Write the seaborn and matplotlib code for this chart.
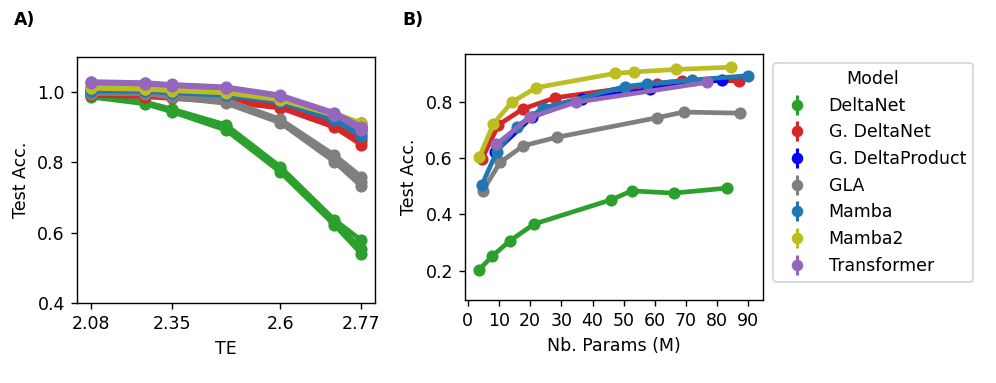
import matplotlib
matplotlib.use("Agg")
import matplotlib.pyplot as plt
from matplotlib.lines import Line2D
import seaborn as sns
import pandas as pd

models = ["DeltaNet", "G. DeltaNet", "G. DeltaProduct", "GLA", "Mamba", "Mamba2", "Transformer"]
colors = ["#2ca02c", "#d62728", "#0000ff", "#7f7f7f", "#1f77b4", "#bcbd22", "#9467bd"]

# ---- Panel A: test accuracy vs TE (three seeds per model) ----
mix = [0.0, 0.2, 0.3, 0.5, 0.7, 0.9, 1.0]
te_tick_pos = [0.0, 0.3, 0.7, 1.0]
te_tick_labels = ["2.08", "2.35", "2.6", "2.77"]

a_deltanet = [[0.990, 0.972, 0.952, 0.907, 0.788, 0.637, 0.578],
              [0.988, 0.970, 0.948, 0.900, 0.780, 0.630, 0.555],
              [0.986, 0.967, 0.944, 0.892, 0.773, 0.622, 0.540]]
a_gdeltanet = [[0.998, 0.993, 0.990, 0.980, 0.965, 0.915, 0.870],
               [0.995, 0.990, 0.986, 0.976, 0.960, 0.907, 0.860],
               [0.992, 0.987, 0.982, 0.972, 0.955, 0.900, 0.850]]
a_gdeltaproduct = [[1.012, 1.008, 1.004, 0.998, 0.980, 0.935, 0.912],
                   [1.010, 1.006, 1.002, 0.996, 0.977, 0.930, 0.905],
                   [1.008, 1.004, 1.000, 0.994, 0.974, 0.926, 0.898]]
a_gla = [[1.000, 1.000, 0.995, 0.978, 0.923, 0.821, 0.759],
         [0.998, 0.998, 0.990, 0.973, 0.918, 0.810, 0.745],
         [0.996, 0.995, 0.985, 0.968, 0.913, 0.802, 0.732]]
a_mamba = [[1.008, 1.006, 1.002, 0.995, 0.978, 0.928, 0.890],
           [1.006, 1.004, 1.000, 0.993, 0.975, 0.924, 0.882],
           [1.004, 1.002, 0.998, 0.991, 0.972, 0.920, 0.875]]
a_mamba2 = [[1.015, 1.012, 1.008, 1.002, 0.982, 0.940, 0.912],
            [1.013, 1.010, 1.006, 1.000, 0.980, 0.937, 0.908],
            [1.011, 1.008, 1.004, 0.998, 0.978, 0.934, 0.904]]
a_transformer = [[1.030, 1.027, 1.022, 1.015, 0.992, 0.942, 0.902],
                 [1.028, 1.025, 1.020, 1.013, 0.990, 0.939, 0.897],
                 [1.026, 1.023, 1.018, 1.011, 0.988, 0.936, 0.892]]
a_series = [a_deltanet, a_gdeltanet, a_gdeltaproduct, a_gla, a_mamba, a_mamba2, a_transformer]

# ---- Panel B: test accuracy vs number of params ----
b_deltanet_x = [3.6, 7.9, 13.6, 21.3, 45.9, 52.6, 66.0, 83.1]
b_deltanet_y = [0.203, 0.252, 0.307, 0.366, 0.452, 0.484, 0.476, 0.494]
b_gdeltanet_x = [4.5, 9.8, 17.6, 28.0, 60.6, 68.6, 87.1]
b_gdeltanet_y = [0.597, 0.719, 0.776, 0.816, 0.866, 0.877, 0.877]
b_gdeltaproduct_x = [8.8, 20.5, 36.6, 58.5, 81.4]
b_gdeltaproduct_y = [0.624, 0.747, 0.812, 0.846, 0.880]
b_gla_x = [4.8, 10.4, 17.8, 28.5, 60.8, 69.2, 87.3]
b_gla_y = [0.485, 0.586, 0.645, 0.675, 0.745, 0.765, 0.761]
b_mamba_x = [4.5, 9.3, 15.7, 24.0, 50.4, 57.4, 71.8, 90.0]
b_mamba_y = [0.505, 0.624, 0.713, 0.779, 0.856, 0.865, 0.879, 0.895]
b_mamba2_x = [3.7, 8.2, 14.1, 21.9, 47.2, 53.3, 66.8, 84.4]
b_mamba2_y = [0.604, 0.723, 0.800, 0.852, 0.903, 0.908, 0.917, 0.925]
b_transformer_x = [9.1, 20.0, 34.7, 76.8]
b_transformer_y = [0.650, 0.747, 0.800, 0.871]
b_xs = [b_deltanet_x, b_gdeltanet_x, b_gdeltaproduct_x, b_gla_x, b_mamba_x, b_mamba2_x, b_transformer_x]
b_ys = [b_deltanet_y, b_gdeltanet_y, b_gdeltaproduct_y, b_gla_y, b_mamba_y, b_mamba2_y, b_transformer_y]

rows_a = []
for m, seeds in zip(models, a_series):
    for s, vals in enumerate(seeds):
        for x, v in zip(mix, vals):
            rows_a.append({"Model": m, "seed": s, "TE": x, "Test Acc.": v})
df_a = pd.DataFrame(rows_a)

rows_b = []
for m, xs, ys in zip(models, b_xs, b_ys):
    for x, y in zip(xs, ys):
        rows_b.append({"Model": m, "Nb. Params (M)": x, "Test Acc.": y})
df_b = pd.DataFrame(rows_b)

palette = dict(zip(models, colors))
plt.rcParams["font.family"] = ["DejaVu Sans"]
plt.rcParams["font.size"] = 10

DPI = 125
fig = plt.figure(figsize=(996 / DPI, 383 / DPI), dpi=DPI)
ax1 = fig.add_axes([0.0773, 0.2089, 0.2992, 0.6423])
ax2 = fig.add_axes([0.4669, 0.2167, 0.2992, 0.6423])

LW = 2.7
MS = 7.0

sns.lineplot(data=df_a, x="TE", y="Test Acc.", hue="Model", hue_order=models,
             palette=palette, units="seed", estimator=None, marker="o",
             markersize=MS, markeredgewidth=0, linewidth=LW, legend=False, ax=ax1)
ax1.set_ylim(0.4, 1.1)
ax1.set_yticks([0.4, 0.6, 0.8, 1.0])
ax1.set_xticks(te_tick_pos)
ax1.set_xticklabels(te_tick_labels)
ax1.set_xlabel("TE")
ax1.set_ylabel("Test Acc.")

sns.lineplot(data=df_b, x="Nb. Params (M)", y="Test Acc.", hue="Model",
             hue_order=models, palette=palette, marker="o", markersize=MS,
             markeredgewidth=0, linewidth=LW, legend=False, ax=ax2)
ax2.set_ylim(0.095, 0.972)
ax2.set_yticks([0.2, 0.4, 0.6, 0.8])
ax2.set_xticks(range(0, 91, 10))
ax2.set_xlim(-0.9, 94.7)
ax2.set_xlabel("Nb. Params (M)")
ax2.set_ylabel("Test Acc.")

handles = []
for c in colors:
    bar = Line2D([], [], color=c, marker="|", markersize=11, markeredgewidth=1.8, linestyle="none")
    dot = Line2D([], [], color=c, marker="o", markersize=MS * 0.95, markeredgewidth=0, linestyle="none")
    handles.append((bar, dot))
ax2.legend(handles, models, title="Model", loc="upper left",
           bbox_to_anchor=(1.034, 0.963), borderaxespad=0)

fig.text(0.014, 0.935, "A)", fontweight="bold", fontsize=10)
fig.text(0.404, 0.935, "B)", fontweight="bold", fontsize=10)

fig.savefig("out.png", dpi=DPI)
